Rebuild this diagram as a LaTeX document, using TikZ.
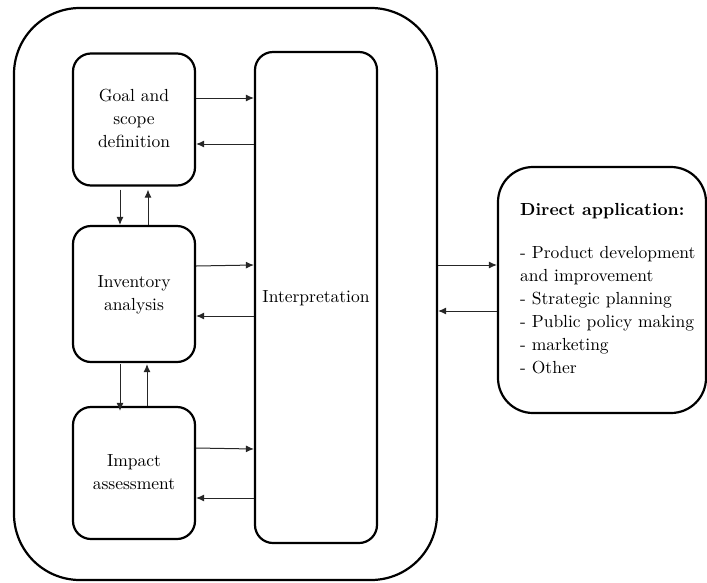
\documentclass[tikz,border=0pt]{standalone}
\usepackage{graphicx}
\usetikzlibrary{arrows.meta}
\newcommand\bigtxt[2][c]{\scalebox{1.75}{\fontsize{10}{13.14}\selectfont\begin{tabular}{@{}#1@{}}#2\end{tabular}}}
\begin{document}
\begin{tikzpicture}[x=1pt,y=-1pt,
  box/.style={draw=black, line width=2.2pt, rounded corners=18pt, align=center, inner sep=0pt},
  arr/.style={draw=black!85, line width=1pt, -{Latex[length=8pt,width=7pt]}}]
\useasboundingbox (0,0) rectangle (707,582);
\node[box, rounded corners=66pt, minimum width=423pt, minimum height=572pt] (outer) at (225.5,294) {};
\node[box, minimum width=122pt, minimum height=132pt] (goal) at (134,119.5) {\bigtxt{Goal and\\scope\\definition}};
\node[box, minimum width=122pt, minimum height=136pt] (inv) at (134,294) {\bigtxt{Inventory\\analysis}};
\node[box, minimum width=122pt, minimum height=132pt] (imp) at (134,473) {\bigtxt{Impact\\assessment}};
\node[box, minimum width=122pt, minimum height=491pt] (interp) at (316,297.5) {\bigtxt{Interpretation}};
\node[box, rounded corners=35pt, minimum width=208pt, minimum height=246pt] (direct) at (602,290) {};
\node[anchor=north west, inner sep=0pt] (dtext) at (520,199) {\bigtxt[l]{\textbf{Direct application:}\\[11.4pt]- Product development\\and improvement\\- Strategic planning\\- Public policy making\\- marketing\\- Other}};
% goal <-> interpretation
\draw[arr] (goal.east |- {(0,98)}) -- (interp.west |- {(0,98)});
\draw[arr] (interp.west |- {(0,144)}) -- (goal.east |- {(0,144)});
% inventory <-> interpretation
\draw[arr] (inv.east |- {(0,266)}) -- (interp.west |- {(0,265)});
\draw[arr] (interp.west |- {(0,316)}) -- (inv.east |- {(0,316)});
% impact <-> interpretation
\draw[arr] (imp.east |- {(0,448)}) -- (interp.west |- {(0,449)});
\draw[arr] (interp.west |- {(0,498)}) -- (imp.east |- {(0,498)});
% vertical
\draw[arr] (goal.south -| {(120,0)}) ++(0,3) -- (inv.north -| {(120,0)});
\draw[arr] (inv.north -| {(148,0)}) -- ([yshift=-3pt]goal.south -| {(148,0)});
\draw[arr] (inv.south -| {(120,0)}) ++(0,1) -- ([yshift=-5pt]imp.north -| {(120,0)});
\draw[arr] (imp.north -| {(147,0)}) -- ([yshift=-1pt]inv.south -| {(147,0)});
% outer <-> direct
\draw[arr] (outer.east |- {(0,265)}) -- (direct.west |- {(0,265)});
\draw[arr] (direct.west |- {(0,311)}) -- (outer.east |- {(0,311)});
\end{tikzpicture}
\end{document}
